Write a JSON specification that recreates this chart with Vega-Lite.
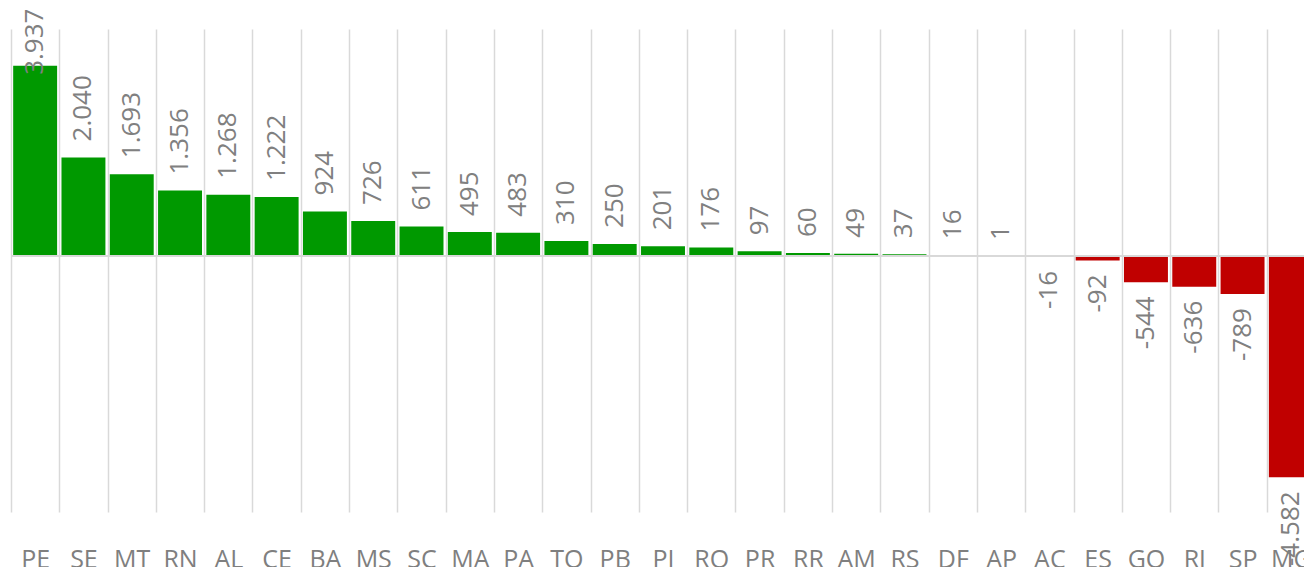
{
  "$schema": "https://vega.github.io/schema/vega-lite/v6.json",
  "width": 1304,
  "height": 483,
  "autosize": {"type": "none"},
  "padding": {"left": 11, "top": 29, "right": 0, "bottom": 55},
  "background": "white",
  "config": {
    "view": {"stroke": null},
    "locale": {"number": {"decimal": ",", "thousands": ".", "grouping": [3], "currency": ["R$", ""], "minus": "-"}}
  },
  "data": {"values": [
    {"uf": "PE", "value": 3937},
    {"uf": "SE", "value": 2040},
    {"uf": "MT", "value": 1693},
    {"uf": "RN", "value": 1356},
    {"uf": "AL", "value": 1268},
    {"uf": "CE", "value": 1222},
    {"uf": "BA", "value": 924},
    {"uf": "MS", "value": 726},
    {"uf": "SC", "value": 611},
    {"uf": "MA", "value": 495},
    {"uf": "PA", "value": 483},
    {"uf": "TO", "value": 310},
    {"uf": "PB", "value": 250},
    {"uf": "PI", "value": 201},
    {"uf": "RO", "value": 176},
    {"uf": "PR", "value": 97},
    {"uf": "RR", "value": 60},
    {"uf": "AM", "value": 49},
    {"uf": "RS", "value": 37},
    {"uf": "DF", "value": 16},
    {"uf": "AP", "value": 1},
    {"uf": "AC", "value": -16},
    {"uf": "ES", "value": -92},
    {"uf": "GO", "value": -544},
    {"uf": "RJ", "value": -636},
    {"uf": "SP", "value": -789},
    {"uf": "MG", "value": -4582}
  ]},
  "layer": [
    {
      "mark": {"type": "bar", "width": {"band": 0.91}},
      "encoding": {
        "x": {"field": "uf", "type": "nominal", "sort": null,
          "scale": {"paddingInner": 0, "paddingOuter": 0},
          "axis": {"title": null, "ticks": false, "domain": false, "grid": true, "tickBand": "extent",
            "gridColor": "#d9d9d9", "gridWidth": 1.5, "labelAngle": 0, "labelFont": "Open Sans",
            "labelFontSize": 25, "labelColor": "#7f7f7f", "labelBaseline": "alphabetic", "labelPadding": 55}},
        "y": {"field": "value", "type": "quantitative", "scale": {"domain": [-5300, 4700], "nice": false}, "axis": null},
        "color": {"condition": {"test": "datum.value < 0", "value": "#C00000"}, "value": "#009900"}
      }
    },
    {
      "mark": {"type": "rule", "color": "#d9d9d9", "strokeWidth": 1.5},
      "encoding": {"y": {"datum": 0, "type": "quantitative"}}
    },
    {
      "transform": [{"filter": "datum.value >= 0 && datum.value < 3000"}],
      "mark": {"type": "text", "angle": 270, "align": "left", "baseline": "middle", "dx": 16, "font": "Open Sans", "fontSize": 26, "color": "#808080"},
      "encoding": {
        "x": {"field": "uf", "type": "nominal", "sort": null},
        "y": {"field": "value", "type": "quantitative"},
        "text": {"field": "value", "type": "quantitative", "format": ",d"}
      }
    },
    {
      "transform": [{"filter": "datum.value >= 3000"}],
      "mark": {"type": "text", "angle": 270, "align": "left", "baseline": "middle", "dx": -9, "font": "Open Sans", "fontSize": 26, "color": "#808080"},
      "encoding": {
        "x": {"field": "uf", "type": "nominal", "sort": null},
        "y": {"field": "value", "type": "quantitative"},
        "text": {"field": "value", "type": "quantitative", "format": ",d"}
      }
    },
    {
      "transform": [{"filter": "datum.value < 0"}],
      "mark": {"type": "text", "angle": 270, "align": "right", "baseline": "middle", "dx": -14, "font": "Open Sans", "fontSize": 26, "color": "#808080"},
      "encoding": {
        "x": {"field": "uf", "type": "nominal", "sort": null},
        "y": {"field": "value", "type": "quantitative"},
        "text": {"field": "value", "type": "quantitative", "format": ",d"}
      }
    }
  ]
}
